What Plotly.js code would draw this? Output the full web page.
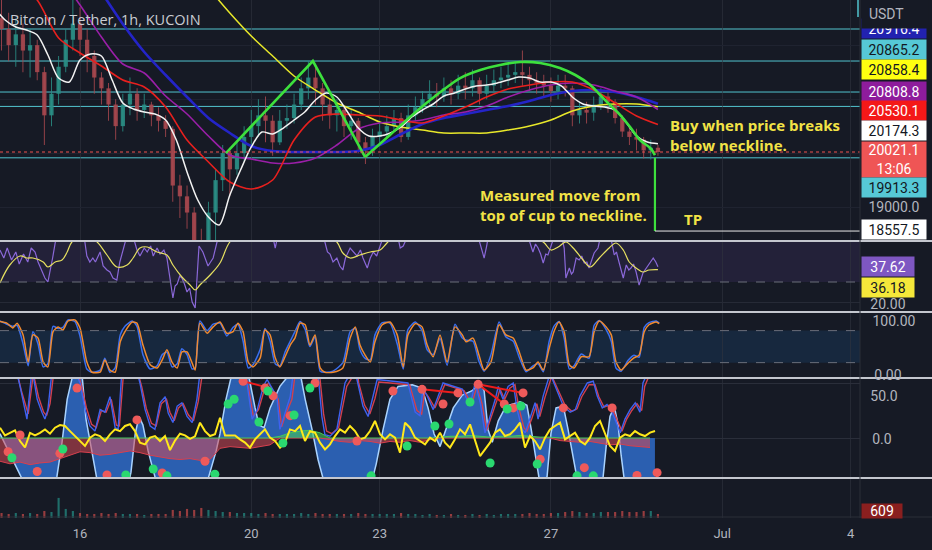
<!DOCTYPE html>
<html><head><meta charset="utf-8">
<script src="https://cdn.plot.ly/plotly-3.0.1.min.js"></script>
<style>html,body{margin:0;padding:0;background:#161a25;}#chart{width:932px;height:550px;}</style>
</head><body><div id="chart"></div>
<script>
// ---------- time axis (day of June; 31 = Jul 1) ----------
const tickDays = [16, 20, 23, 27, 31, 34];
const tickLabels = ['16', '20', '23', '27', 'Jul', '4'];

// ---------- 4h candles ----------
const candleStart = 14 + 4 / 24, candleStepDays = 4 / 24;
const firstOpen = 22500;
const candleClose = [22300,22000,22200,21900,22000,21500, 20700,21100,21600,22100,22400,22100,
  21800,21400,21200,20900,20500,20900, 21100,20800,20900,20700,20600,20450,
  19400,19200,18900,18300,18200,18900, 19500,20000,19700,20000,20300,20500,
  20700,20600,20200,20600,20650,20900, 21200,21400,21200,20900,20700,20800,
  20500,20600,20200,20050,20300,20400, 20500,20650,20300,20700,20850,21000,
  21100,21050,21200,21100,21250,21200, 21350,21100,21250,21350,21400,21450,
  21500,21450,21350,21300,21250,21150, 21250,21200,20700,20800,20750,20900,
  21050,20950,20650,20400,20300,20250, 20050,20100,20021.1];
const candleHigh = [22900,22600,22500,22400,22300,22100, 21600,21400,21800,22300,22900,22700,
  22300,21900,21500,21300,21000,21100, 21400,21200,21100,20950,20850,20700,
  20500,19600,19400,19000,18600,19100, 19700,20150,20100,20200,20500,20800,
  21000,21050,20700,20800,20900,21100, 21400,21700,21650,21300,21000,21000,
  20850,20800,20650,20300,20450,20600, 20700,20800,20750,20900,21050,21150,
  21350,21300,21400,21350,21450,21500, 21550,21400,21450,21550,21600,21650,
  21700,21900,21600,21500,21450,21400, 21450,21450,21250,20950,20950,21050,
  21200,21150,21000,20700,20500,20450, 20300,20250,20150];
const candleLow = [21900,21700,21600,21500,21400,21350, 20150,20500,20900,21500,21900,21800,
  21500,21100,20900,20600,20250,20400, 20700,20600,20650,20500,20400,20300,
  19100,18800,18600,17900,17622,18000, 18300,19300,19200,19600,19850,20100,
  20300,20200,19950,20150,20450,20550, 20800,21000,20900,20600,20450,20400,
  20300,20250,20000,19800,19950,20150, 20300,20400,20200,20250,20600,20750,
  20900,20850,20950,20900,21000,21000, 21050,20900,21000,21150,21200,21250,
  21300,21250,21150,21100,21050,20950, 21000,21050,20500,20550,20550,20600,
  20800,20750,20550,20300,20150,20050, 19900,19880,19950];
const volume = [760,610,760,610,760,610, 1060,910,3040,1370,1060,760,
  610,610,760,610,760,610,610,610,460,610,610,610,
  1220,1060,1370,1220,1520,1220,1060,910,910,760,760,760,
  610,760,610,610,610,610,760,610,760,610,610,610,610,610,760,610,610,610,
  610,610,760,610,610,460,610,460,460,610,460,460,610,460,610,460,610,610,
  610,610,760,610,610,760,760,910,1060,910,760,760,910,910,910,1060,910,910,1060,1060,609];

// ---------- moving averages ----------
const whiteStart = 14.0, whiteStep = 0.25;
const whiteMA = [22688,22466,22336,22280,22188,21817,21391,21317,21725,21836,
  21799,21354,20928,20817,20762,20725,20614,20243,19651,19132,
  18817,18669,19225,19688,20114,20391,20354,20465,20614,20762,
  20984,21114,21040,20762,20465,20317,20317,20373,20484,20669,
  20799,20910,21058,21114,21188,21243,21262,21299,21354,21410,
  21391,21317,21317,21243,21040,20910,20873,20854,20799,20577,
  20317,20206,20174.3];
const maStep = 0.5;
const redStart = 14.0;
const redMA = [23577,23206,22836,22132,21854,21614,21354,21225,20854,20243,19836,19465,19336,19502,20243,20669,
  20725,20706,20688,20614,20558,20688,20854,21040,21188,21262,21317,21317,21169,20928,20688,20530.1];
const purpleStart = 15.5;
const purpleMA = [23299,22743,22151,21651,21484,21058,20725,20317,19965,19891,19817,19817,19910,20151,20447,
  20558,20577,20614,20706,20762,20873,21040,21169,21262,21299,21262,21151,21040,20808.8];
const blueStart = 16.5;
const blueMA = [22984,22392,21873,21447,21040,20651,20373,20132,20040,20021,20021,20021,20040,20151,
  20354,20540,20651,20725,20799,20873,20966,21077,21151,21169,21132,21040,20916.4];
const yellowStart = 19.0;
const yellowMA = [23058,22595,22169,21799,21429,21169,20928,20762,20577,20484,20428,
  20373,20373,20373,20428,20503,20614,20780,20873,20910,20910,20858.4];

// ---------- drawn levels and pattern ----------
const levelPrices = [22299, 21706, 21132, 20865.2, 19913.3];
const lastPrice = 20021.1;
const necklinePrice = 19913.3;
const tpPrice = 18557.5;
const zigzagT = [19.41, 21.44, 22.66];
const zigzagP = [20002, 21706, 19928];
const cupT = [22.66,23.24,23.71,24.18,24.64,24.88,25.35,25.81,26.28,26.75,27.21,27.57,27.92,28.15,28.38,28.62,28.85,29.08,29.32,29.43];
const cupP = [19928,20336,20669,20984,21262,21391,21540,21632,21688,21669,21577,21447,21262,21077,20891,20706,20484,20243,20095,19965];
const breakT = 29.43;

// ---------- RSI ----------
const rsiPoints = [[14.13,46],[14.22,42],[14.30,47],[14.40,41],[14.50,45],[14.58,39],[14.68,44],[14.78,40],[14.86,47],[14.95,45],
 [15.02,40],[15.10,36],[15.18,32],[15.25,30],[15.30,35],[15.36,42],[15.44,52],[15.55,60],[15.75,65],[15.95,58],
 [16.10,52],[16.16,43],[16.23,40],[16.30,42],[16.36,40],[16.47,45],[16.54,38],[16.63,36],[16.70,35],[16.77,32],
 [16.86,31],[16.93,40],[17.02,47],[17.12,55],[17.25,52],[17.33,46],[17.40,43],[17.50,47],[17.57,45],[17.65,48],
 [17.71,43],[17.80,47],[17.87,44],[17.96,46],[18.03,42],[18.10,33],[18.17,22],[18.22,28],[18.27,29],[18.33,33],
 [18.38,32],[18.44,29],[18.50,25],[18.56,27],[18.62,20],[18.69,17],[18.74,35],[18.78,48],[18.87,45],[18.93,41],
 [18.99,38],[19.05,40],[19.11,42],[19.20,50],[19.35,58],[19.55,62],[19.75,60],[19.95,64],[20.15,58],[20.35,62],
 [20.51,52],[20.56,47],[20.62,53],[20.80,60],[21.00,66],[21.20,70],[21.40,63],[21.60,56],[21.72,50],[21.78,45],
 [21.84,44],[21.91,40],[22.00,42],[22.07,38],[22.14,36],[22.20,42],[22.31,47],[22.40,45],[22.47,43],[22.55,46],
 [22.61,42],[22.71,37],[22.78,42],[22.85,45],[22.93,43],[23.01,48],[23.12,55],[23.30,57],[23.44,51],[23.48,47],
 [23.55,48],[23.70,55],[23.90,60],[24.20,62],[24.50,58],[24.80,61],[25.10,57],[25.32,51],[25.40,44],[25.44,42],
 [25.50,48],[25.53,52],[25.80,58],[26.05,62],[26.30,56],[26.49,51],[26.58,45],[26.64,49],[26.70,47],[26.76,44],
 [26.82,39.5],[26.88,44],[26.93,43.5],[27.00,48],[27.05,51],[27.17,54],[27.28,50],[27.31,47],[27.35,32],[27.43,37],
 [27.48,34],[27.52,35],[27.59,42],[27.66,41],[27.72,43],[27.78,39.5],[27.84,40],[27.89,37],[27.95,41],[28.01,44.5],
 [28.10,47],[28.15,52],[28.27,55],[28.41,51],[28.48,43.5],[28.53,45],[28.59,40],[28.69,32],[28.76,38.5],[28.82,36],
 [28.87,37],[28.93,39],[28.99,35],[29.06,28.5],[29.15,34.5],[29.20,36],[29.27,38.5],[29.33,40],[29.39,42],[29.45,40],[29.50,37.62]];
const rsiMaPoints = [[14.13,29.5],[14.36,38.5],[14.60,43],[14.76,42],[14.90,42],[15.14,40],[15.25,37.5],[15.42,40],[15.58,41],[15.70,45],
 [15.81,50],[16.10,54],[16.40,50],[16.63,43.5],[16.86,37.5],[17.10,38.5],[17.24,42],[17.40,47],[17.57,47.5],[17.80,45],
 [18.03,43.5],[18.17,38.5],[18.38,32.5],[18.57,28.5],[18.69,26],[18.80,28.5],[19.04,33.5],[19.27,39.5],[19.50,50],[19.80,55],
 [20.50,57],[21.20,58],[21.70,54],[22.00,50],[22.14,44.5],[22.31,42],[22.54,43.5],[22.78,45],[23.01,46],[23.17,49.5],
 [23.40,54],[24.00,57],[24.80,58],[25.50,56],[26.10,54],[26.50,52],[26.82,50],[27.00,46],[27.17,47.5],[27.35,50],
 [27.52,47],[27.75,41],[27.92,37.5],[28.13,42],[28.36,47],[28.52,49.5],[28.69,46],[28.83,40],[28.99,37],[29.15,35],[29.29,36],[29.50,36.18]];

// ---------- Stochastic ----------
const stochT = [14.13,14.29,14.43,14.53,14.67,14.79,14.90,15.02,15.14,15.25,
 15.37,15.49,15.60,15.72,15.88,16.00,16.16,16.28,16.47,16.58,
 16.70,16.82,16.94,17.05,17.22,17.33,17.47,17.64,17.80,17.92,
 18.03,18.15,18.27,18.38,18.50,18.62,18.69,18.80,18.97,19.11,
 19.27,19.43,19.575,19.69,19.81,19.93,20.04,20.21,20.32,20.44,
 20.56,20.67,20.79,20.91,21.02,21.14,21.26,21.37,21.49,21.61,
 21.72,21.91,22.14,22.31,22.43,22.54,22.66,22.78,22.89,23.06,
 23.24,23.41,23.55,23.66,23.83,23.99,24.11,24.25,24.41,24.575,
 24.76,24.93,25.02,25.18,25.32,25.44,25.60,25.79,25.95,26.12,
 26.26,26.42,26.58,26.70,26.82,26.96,27.07,27.19,27.31,27.43,
 27.54,27.71,27.89,28.01,28.13,28.29,28.41,28.52,28.64,28.80,
 28.94,29.06,29.18,29.29,29.46,29.53];
const stochD = [97,94,85,94,72,21,72,66,21,12, 78,87,81,98,100,85,21,2,2,25, 6,2,59,78,96,94,53,16,10,25,
 44,21,10,40,40,19,6,94,75,87, 96,75,78,94,78,21,12,29,81,72, 29,12,31,53,66,94,91,53,72,10,
 2,2,10,66,87,53,34,21,59,91, 96,72,12,72,93,87,53,31,72,21, 87,72,59,66,34,6,21,91,72,66,
 40,6,10,21,6,47,78,96,78,16, 10,31,31,78,98,87,72,21,6,19, 29,34,78,91,96,93];
const stochK = [98,92,88,90,55,14,78,55,12,18, 88,84,86,100,97,70,8,2,6,28, 2,10,72,88,98,88,35,8,14,35,
 40,12,18,46,35,8,10,98,80,92, 94,70,86,92,60,10,16,45,84,60, 18,14,40,60,78,97,82,50,68,4,
 2,4,20,78,84,44,28,25,72,95, 94,55,8,82,96,80,44,35,65,15, 92,66,62,60,22,4,35,96,68,60,
 30,3,14,18,3,60,88,97,66,8, 14,36,28,90,99,82,60,10,4,24, 34,30,86,95,98,94];

// ---------- wave oscillator panel ----------
const waveT = [14.13,14.32,14.55,14.72,15.35,15.46,15.58,15.70,15.84,16.05, 16.14,16.23,16.33,16.42,17.10,17.19,17.29,17.38,17.47,17.59,
 17.71,17.82,18.92,19.04,19.18,19.27,19.41,19.55,19.93,20.09, 20.18,20.30,20.44,20.67,20.91,21.14,21.26,21.42,21.56,21.72,
 22.78,22.92,23.08,23.24,23.43,23.76,23.99,24.13,24.27,24.41, 24.55,24.72,24.93,25.16,25.35,25.44,25.53,25.63,25.77,25.95,
 26.28,26.44,26.54,26.63,26.75,26.91,27.00,27.12,27.29,27.40, 27.52,27.64,28.20,28.29,28.38,28.48,28.57,28.64,28.73,29.43];
const waveV = [5,-15,-40,-55,-60,-45,-5,45,75,72, 22,-5,-30,-55,-60,-40,5,25,15,-15, -40,-58,-60,-40,-15,5,45,75,75,35,
 15,12,35,60,75,76,45,10,-25,-55, -58,-30,10,45,60,62,58,35,5,-10, 10,35,50,55,64,55,10,-5,20,37,
 42,38,10,-20,-55,-45,5,35,37,10, -25,-55,-55,-10,25,37,15,-20,-55,-58];
const oscBluePoints = [[14.13,85],[14.48,85],[14.60,60],[14.76,22],[14.88,80],[15.00,45],[15.11,30],[15.18,22],[15.25,33],[15.35,80],[15.65,90],[15.95,70],[16.00,64],[16.12,33],[16.23,14],[16.35,8],[16.47,33],[16.58,30],[16.70,48],[16.82,12],[16.89,10],[16.98,80],[17.29,85],[17.40,64],[17.52,33],[17.64,14],[17.75,10],[17.87,41],[17.99,48],[18.06,29],[18.17,18],[18.27,37],[18.38,41],[18.50,25],[18.62,18],[18.73,45],[18.80,75],[19.74,80],[19.90,64],[20.02,22],[20.14,33],[20.28,60],[20.37,68],[20.60,48],[20.67,10],[20.74,22],[20.91,48],[20.98,75],[21.56,75],[21.65,25],[21.72,4],[21.84,2],[22.00,10],[22.19,64],[22.43,85],[22.47,68],[22.61,37],[22.73,25],[22.85,48],[22.94,68],[23.31,66],[23.66,64],[23.83,30],[23.94,26],[24.01,57],[24.11,49],[24.25,33],[24.36,49],[24.48,64],[24.93,57],[25.11,37],[25.23,64],[25.35,41],[25.46,6],[25.58,26],[25.70,45],[25.77,60],[25.88,45],[26.00,60],[26.12,64],[26.21,33],[26.33,10],[26.40,6],[26.51,22],[26.63,41],[26.70,22],[26.82,49],[26.98,75],[27.29,37],[27.45,30],[27.57,33],[27.68,49],[27.85,64],[27.99,66],[28.08,49],[28.20,35],[28.31,39],[28.43,30],[28.55,14],[28.62,6],[28.73,22],[28.85,33],[28.97,41],[29.08,30],[29.15,64],[29.25,75],[29.43,85]];
const oscRedPoints = [[14.13,88],[14.50,82],[14.63,55],[14.79,28],[14.91,75],[15.03,48],[15.15,30],[15.22,26],[15.30,40],[15.40,82],[15.95,75],[16.03,62],[16.15,35],[16.27,16],[16.38,12],[16.50,32],[16.61,30],[16.73,45],[16.85,15],[16.92,14],[17.02,78],[17.33,80],[17.44,60],[17.55,34],[17.67,17],[17.78,14],[17.90,40],[18.02,45],[18.10,30],[18.20,20],[18.30,35],[18.41,40],[18.53,27],[18.65,20],[18.76,42],[18.85,72],[19.78,78],[19.93,60],[20.05,25],[20.17,33],[20.31,57],[20.40,64],[20.63,45],[20.71,13],[20.78,24],[20.95,45],[21.02,72],[21.60,72],[21.69,28],[21.76,8],[21.88,5],[22.04,12],[22.23,60],[22.47,80],[22.51,64],[22.65,38],[22.77,28],[22.89,46],[22.98,65],[23.70,62],[23.87,32],[23.98,28],[24.05,54],[24.15,47],[24.29,35],[24.40,47],[24.52,62],[24.97,55],[25.15,39],[25.27,60],[25.39,40],[25.50,9],[25.62,26],[25.74,44],[25.81,57],[25.92,45],[26.04,58],[26.16,62],[26.25,35],[26.37,12],[26.44,8],[26.55,22],[26.67,40],[26.74,25],[26.86,47],[27.02,72],[27.33,38],[27.49,31],[27.61,34],[27.72,48],[27.89,62],[28.03,62],[28.12,48],[28.24,36],[28.35,38],[28.47,30],[28.59,16],[28.66,8],[28.77,22],[28.89,32],[29.01,40],[29.12,32],[29.19,60],[29.29,72],[29.43,82]];
const yellowStartDay = 14.131, yellowStepDays = 0.1168;
const oscYellow = [12,3,6,9,-3.5,-11,6,3,6,10, 5,12,15,14,8,2.3,-3.5,-9.3,0.4,4.3, 2.3,-3.5,4.3,10,8,14,16,8,-5.4,-7.4,
 0.4,2.3,-3.5,2.3,-14,-3,5,3,-1,2, 17.8,8,2.3,4.3,23.6,3,3,3,-1.6,-5.4, -11.2,-1.6,4.3,10,0.4,-3.5,-11.2,-5,10,8,
 14,-3.5,8,6.2,-5.4,-13.2,-7.4,2.3,10,6.2, 14,8.1,-1.6,0.4,8.1,19.8,4.3,-1.6,4.3,0.4, -17,17.8,12,0.4,-3.5,-7.4,0.4,-3.5,6.2,-5.4,
 -11.2,-1.6,10,4.3,15.9,-1.6,-21,-13.2,-5.4,6.2, 10,2.3,4.3,10,17.8,-11.2,2.3,-3.5,-13.2,0.4, 10,14,17.8,-1.6,2.3,6.2,-3.5,-7.4,0.4,14,
 19.8,4.3,-9.3,-15.1,0.4,4.3,2.3,8.1,4.3,2.3, 6.2,8.1];
const mfStartDay = 14.131, mfStepDays = 0.2336;
const moneyFlow = [-27,-30,-28,-31,-29,-28,-24,-20,-16,-17, -20,-19,-17,-15,-17,-20,-22,-24,-25,-24,
 -26,-25,-12,-10,-11,-12,-10,-8,2,6, 8,9,6,-2,-4,-5,-3,-4,-6,-4, -5,-3,-5,-2,1,2,2,3,2,1,
 2,2,3,2,1,1,-3,-4,-5,-4, -6,-8,-7,-9,-10,-11];
const redDots = [[15.93,58],[17.33,21],[14.60,3.5],[14.32,-16],[15.00,-39],[15.53,-17.8],[16.63,-43],[17.92,-40.7],[18.92,-27],[19.81,66],[20.32,58],[20.51,49],[20.91,26],[21.49,64],[23.31,54.7],[23.99,56.6],[24.48,39.5],[24.83,52.4],[25.30,62.4],[25.91,39.5],[26.12,35],[26.35,52.4],[27.29,35],[28.43,35],[22.47,-3.5],[26.75,-24.8],[27.78,-34.5],[29.01,-43.6],[29.48,-40.3]];
const greenDots = [[14.41,-23],[15.60,-12.8],[17.07,-43],[17.71,-36],[18.03,-44],[19.15,-42],[19.46,39.5],[19.60,45],[20.18,18.6],[20.39,54.7],[21.00,26.7],[21.37,58],[20.74,-5.8],[25.11,41.9],[25.98,33.7],[26.30,37.2],[24.29,14],[24.62,16.3],[23.64,-9.3],[25.58,-29.1],[26.68,-30.2],[22.80,-44],[27.61,-44],[27.99,-44]];
const divergenceLines = [[[19.81,66],[20.28,60]],[[23.99,56.6],[24.83,52.4]],[[25.30,62.4],[26.35,52.4]],[[25.30,62.4],[25.91,39.5]]];

// ---------- build ----------
const grid = (start, step, n) => Array.from({length: n}, (_, i) => +(start + i * step).toFixed(4));
const candleT = grid(candleStart, candleStepDays, candleClose.length);
const candleOpen = candleClose.map((c, i) => i === 0 ? firstOpen : candleClose[i - 1]);
const hi = candleHigh.map((h, i) => Math.max(h, candleOpen[i], candleClose[i]));
const lo = candleLow.map((l, i) => Math.min(l, candleOpen[i], candleClose[i]));
const up = candleClose.map((c, i) => c >= candleOpen[i]);
const candleColor = up.map(u => u ? '#2a8f86' : '#a9484f');
const xs = p => p.map(d => d[0]), ys = p => p.map(d => d[1]);

const traces = [];
// candle wicks and bodies drawn as floating bars on the price axis
traces.push({type: 'bar', x: candleT, base: lo, y: hi.map((h, i) => h - lo[i]), width: 0.022,
  xaxis: 'x', yaxis: 'y', marker: {color: candleColor, line: {width: 0}}, opacity: 0.9, hoverinfo: 'skip'});
traces.push({type: 'bar', x: candleT, base: candleClose.map((c, i) => Math.min(c, candleOpen[i])),
  y: candleClose.map((c, i) => Math.max(Math.abs(c - candleOpen[i]), 15)), width: 0.1,
  xaxis: 'x', yaxis: 'y', marker: {color: candleColor, line: {width: 0}}, opacity: 0.9, hoverinfo: 'skip'});
function maLine(start, vals, color, width, step) {
  return {type: 'scatter', mode: 'lines', x: grid(start, step, vals.length), y: vals, xaxis: 'x', yaxis: 'y',
    line: {color: color, width: width, shape: 'spline', smoothing: 0.8}, hoverinfo: 'skip'};
}
traces.push(maLine(yellowStart, yellowMA, '#e8e82a', 1.5, maStep));
traces.push(maLine(blueStart, blueMA, '#2424c8', 2.6, maStep));
traces.push(maLine(purpleStart, purpleMA, '#9a1fa8', 1.6, maStep));
traces.push(maLine(redStart, redMA, '#e8201e', 1.6, maStep));
traces.push(maLine(whiteStart, whiteMA, '#f2f2f2', 1.5, whiteStep));
traces.push({type: 'scatter', mode: 'lines', x: zigzagT, y: zigzagP, xaxis: 'x', yaxis: 'y', line: {color: '#3de03d', width: 2.6}, hoverinfo: 'skip'});
traces.push({type: 'scatter', mode: 'lines', x: cupT, y: cupP, xaxis: 'x', yaxis: 'y', line: {color: '#3de03d', width: 2.6, shape: 'spline'}, hoverinfo: 'skip'});
traces.push({type: 'scatter', mode: 'lines', x: [breakT, breakT], y: [necklinePrice, tpPrice], xaxis: 'x', yaxis: 'y', line: {color: '#3de03d', width: 2.2}, hoverinfo: 'skip'});
traces.push({type: 'scatter', mode: 'lines', x: [breakT, 34.3], y: [tpPrice, tpPrice], xaxis: 'x', yaxis: 'y', line: {color: '#e8e8e8', width: 1}, hoverinfo: 'skip'});

// RSI
traces.push({type: 'scatter', mode: 'lines', x: xs(rsiPoints), y: ys(rsiPoints), xaxis: 'x', yaxis: 'y2', line: {color: '#8a68d8', width: 1.2}, hoverinfo: 'skip'});
traces.push({type: 'scatter', mode: 'lines', x: xs(rsiMaPoints), y: ys(rsiMaPoints), xaxis: 'x', yaxis: 'y2', line: {color: '#e6e060', width: 1.2, shape: 'spline'}, hoverinfo: 'skip'});
// Stoch
traces.push({type: 'scatter', mode: 'lines', x: stochT, y: stochK, xaxis: 'x', yaxis: 'y3', line: {color: '#3a6ff0', width: 1.5, shape: 'spline', smoothing: 0.6}, hoverinfo: 'skip'});
traces.push({type: 'scatter', mode: 'lines', x: stochT, y: stochD, xaxis: 'x', yaxis: 'y3', line: {color: '#f08a30', width: 1.5, shape: 'spline', smoothing: 0.6}, hoverinfo: 'skip'});
// Wave panel
traces.push({type: 'scatter', mode: 'lines', x: waveT, y: waveV, xaxis: 'x', yaxis: 'y4', fill: 'tozeroy', fillcolor: '#2b5fb0', line: {color: '#a9d3ff', width: 1.5}, hoverinfo: 'skip'});
const mfT = grid(mfStartDay, mfStepDays, moneyFlow.length);
traces.push({type: 'scatter', mode: 'lines', x: mfT, y: moneyFlow.map(v => Math.min(v, 0)), xaxis: 'x', yaxis: 'y4', fill: 'tozeroy', fillcolor: 'rgba(214,72,86,0.55)', line: {color: '#d8404e', width: 1}, hoverinfo: 'skip'});
traces.push({type: 'scatter', mode: 'lines', x: mfT, y: moneyFlow.map(v => Math.max(v, 0)), xaxis: 'x', yaxis: 'y4', fill: 'tozeroy', fillcolor: 'rgba(70,200,90,0.6)', line: {color: '#46c85a', width: 1}, hoverinfo: 'skip'});
traces.push({type: 'scatter', mode: 'lines', x: xs(oscRedPoints), y: ys(oscRedPoints), xaxis: 'x', yaxis: 'y4', line: {color: '#d2404e', width: 1.4}, hoverinfo: 'skip'});
traces.push({type: 'scatter', mode: 'lines', x: xs(oscBluePoints), y: ys(oscBluePoints), xaxis: 'x', yaxis: 'y4', line: {color: '#3f62f0', width: 1.4}, hoverinfo: 'skip'});
traces.push({type: 'scatter', mode: 'lines', x: grid(yellowStartDay, yellowStepDays, oscYellow.length), y: oscYellow, xaxis: 'x', yaxis: 'y4', line: {color: '#ffe81a', width: 2}, hoverinfo: 'skip'});
divergenceLines.forEach(seg => traces.push({type: 'scatter', mode: 'lines', x: xs(seg), y: ys(seg), xaxis: 'x', yaxis: 'y4', line: {color: '#ee1c1c', width: 2}, hoverinfo: 'skip'}));
traces.push({type: 'scatter', mode: 'markers', x: xs(redDots), y: ys(redDots), xaxis: 'x', yaxis: 'y4', marker: {color: '#ee5a5a', size: 9}, hoverinfo: 'skip'});
traces.push({type: 'scatter', mode: 'markers', x: xs(greenDots), y: ys(greenDots), xaxis: 'x', yaxis: 'y4', marker: {color: '#2ad870', size: 9}, hoverinfo: 'skip'});
// Volume
traces.push({type: 'bar', x: candleT, y: volume, xaxis: 'x', yaxis: 'y5', width: 0.05,
  marker: {color: up.map(u => u ? 'rgba(38,166,154,0.6)' : 'rgba(239,83,80,0.6)'), line: {width: 0}}, hoverinfo: 'skip'});

// ---------- layout ----------
const H = 518;
const py = px => 1 - px / H;
const shapes = [];
levelPrices.forEach(p => shapes.push({type: 'line', xref: 'paper', x0: 0, x1: 1, yref: 'y', y0: p, y1: p, line: {color: '#52c4cf', width: 1}, layer: 'below'}));
shapes.push({type: 'line', xref: 'paper', x0: 0, x1: 1, yref: 'y', y0: lastPrice, y1: lastPrice, line: {color: '#ef5350', width: 1, dash: 'dot'}});
shapes.push({type: 'rect', xref: 'paper', x0: 0, x1: 1, yref: 'y2', y0: 30, y1: 70, fillcolor: 'rgba(126,87,194,0.13)', line: {width: 0}, layer: 'below'});
shapes.push({type: 'line', xref: 'paper', x0: 0, x1: 1, yref: 'y2', y0: 30, y1: 30, line: {color: '#6a6e7a', width: 1, dash: 'dash'}});
shapes.push({type: 'rect', xref: 'paper', x0: 0, x1: 1, yref: 'y3', y0: 20, y1: 80, fillcolor: 'rgba(33,150,243,0.12)', line: {width: 0}, layer: 'below'});
[20, 80].forEach(v => shapes.push({type: 'line', xref: 'paper', x0: 0, x1: 1, yref: 'y3', y0: v, y1: v, line: {color: '#6a6e7a', width: 1, dash: 'dash'}}));
[241, 312, 378, 478].forEach(px => shapes.push({type: 'line', xref: 'paper', x0: 0, x1: 932 / 860, yref: 'paper', y0: py(px), y1: py(px), line: {color: '#c4c7cf', width: 2}}));
shapes.push({type: 'line', xref: 'paper', x0: 0, x1: 932 / 860, yref: 'paper', y0: py(517), y1: py(517), line: {color: '#2a2e39', width: 1}});
shapes.push({type: 'line', xref: 'paper', x0: 1, x1: 1, yref: 'paper', y0: 0, y1: 1, line: {color: '#2a2e39', width: 1}});
shapes.push({type: 'line', xref: 'paper', x0: 858 / 860, x1: 858 / 860, yref: 'paper', y0: py(17), y1: 1, line: {color: '#52c4cf', width: 1.5}});

const annotations = [];
function box(text, ypx, bg, color, h, w, align) {
  annotations.push({xref: 'paper', yref: 'paper', x: 1 + 1 / 860, y: py(ypx), xanchor: 'left', yanchor: 'middle',
    text: text, showarrow: false, bgcolor: bg || 'rgba(0,0,0,0)', width: w || 64, height: h || 19, align: align || 'center', borderpad: 0,
    font: {family: 'Roboto, sans-serif', size: 14, color: color}});
}
box('20916.4', 28, '#2222b0', '#ffffff');
box('&nbsp;&nbsp;USDT', 14, '#161a25', '#b2b5be', 29, 66, 'left');
box('20865.2', 49.5, '#56c8d6', '#131722');
box('20858.4', 70, '#ffff10', '#131722');
box('20808.8', 91.5, '#8e1c9c', '#ffffff');
box('20530.1', 110.5, '#f41818', '#ffffff');
box('20174.3', 130.5, '#ffffff', '#131722');
box('20021.1<br>13:06', 159.5, '#ef5555', '#ffffff', 35);
box('19913.3', 187.5, '#56c8d6', '#131722');
box('19000.0', 206, null, '#b2b5be');
box('18557.5', 229.5, '#ffffff', '#131722');
box('37.62', 266, '#7e57c2', '#ffffff', 19, 52);
box('36.18', 287, '#f5e83a', '#131722', 19, 52);
box('20.00', 303, null, '#b2b5be', 19, 52);
box('100.00', 320, null, '#b2b5be');
box('0.00', 374, null, '#b2b5be', 19, 52);
box('50.0', 395, null, '#b2b5be', 19, 44);
box('0.0', 438, null, '#b2b5be', 19, 40);
box('609', 511, '#8a1f1f', '#ffffff', 14, 40);

const noteFont = {family: 'Open Sans, sans-serif', size: 15, color: '#f2e346', weight: 700};
annotations.push({xref: 'paper', yref: 'paper', x: 8 / 860, y: py(19), xanchor: 'left', yanchor: 'middle', showarrow: false,
  text: 'Bitcoin / Tether, 1h, KUCOIN', font: {family: 'Open Sans, sans-serif', size: 14.5, color: '#c9ccd3'}});
annotations.push({xref: 'paper', yref: 'paper', x: 668 / 860, y: py(134.5), xanchor: 'left', yanchor: 'middle', showarrow: false, align: 'left',
  text: 'Buy when price breaks<br>below neckline.', font: noteFont});
annotations.push({xref: 'paper', yref: 'paper', x: 478 / 860, y: py(205.5), xanchor: 'left', yanchor: 'middle', showarrow: false, align: 'left',
  text: 'Measured move from<br>top of cup to neckline.', font: noteFont});
annotations.push({xref: 'paper', yref: 'paper', x: 682 / 860, y: py(219), xanchor: 'left', yanchor: 'middle', showarrow: false,
  text: 'TP', font: noteFont});

const hidden = {showticklabels: false, zeroline: false, showline: false, ticks: '', fixedrange: true, anchor: 'x'};
const layout = {
  width: 932, height: 550, margin: {l: 0, r: 72, t: 0, b: 32},
  paper_bgcolor: '#161a25', plot_bgcolor: '#161a25', showlegend: false, barmode: 'overlay',
  font: {family: 'Roboto, sans-serif', color: '#b2b5be'},
  xaxis: {domain: [0, 1], range: [14.131, 34.22], anchor: 'y5', tickvals: tickDays, ticktext: tickLabels,
    showgrid: true, gridcolor: 'rgba(48,52,64,0.6)', zeroline: false, ticks: '', ticklabelstandoff: 6,
    tickfont: {size: 13, color: '#b2b5be'}, showline: false, fixedrange: true},
  yaxis: Object.assign({domain: [py(241), 1], range: [18373, 22836], tickvals: [19000, 20000, 21000, 22000], showgrid: true, gridcolor: '#1f2330'}, hidden),
  yaxis2: Object.assign({domain: [py(312), py(242)], range: [15, 50], tickvals: [20], showgrid: true, gridcolor: '#262a36'}, hidden),
  yaxis3: Object.assign({domain: [py(378), py(313)], range: [-8.8, 113], showgrid: false}, hidden),
  yaxis4: Object.assign({domain: [py(478), py(379)], range: [-46.5, 68.6], tickvals: [0, 63], showgrid: true, gridcolor: '#2a2e3a'}, hidden),
  yaxis5: Object.assign({domain: [0, py(479)], range: [0, 5900], showgrid: false}, hidden),
  shapes: shapes, annotations: annotations
};
Plotly.newPlot('chart', traces, layout, {displayModeBar: false, staticPlot: true});
</script></body></html>
